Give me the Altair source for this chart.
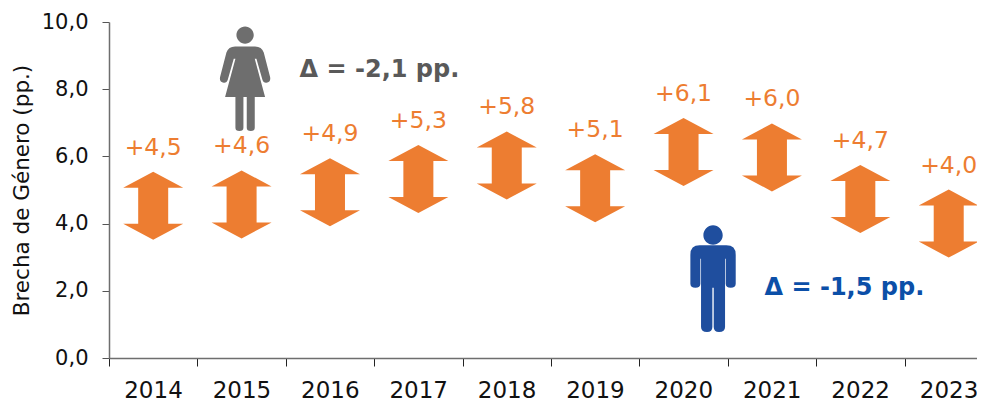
import re
import altair as alt
import pandas as pd

years = [2014, 2015, 2016, 2017, 2018, 2019, 2020, 2021, 2022, 2023]
gap = [4.53, 4.57, 4.93, 5.33, 5.73, 5.05, 6.13, 5.97, 4.73, 4.0]
labels = ["+4,5", "+4,6", "+4,9", "+5,3", "+5,8", "+5,1", "+6,1", "+6,0", "+4,7", "+4,0"]
x_domain = [2013.5, 2023.32]
x_ticks = [2013.5, 2014.5, 2015.5, 2016.5, 2017.5, 2018.5, 2019.5, 2020.5, 2021.5, 2022.5]

FONT = "DejaVu Sans"
ORANGE = "#ED7D31"


def unit(path, k):
    return re.sub(r"-?\d+(?:\.\d+)?", lambda m: f"{float(m.group()) / k:.4f}", path)


ARROW = unit(
    "M0,-34 L30,-18 L15,-18 L15,18 L30,18 L0,34 L-30,18 L-15,18 L-15,-18 L-30,-18 Z", 34
)
WOMAN = unit(
    "M0,-158 C14,-158 26,-146 26,-132 C26,-118 14,-106 0,-106 C-14,-106 -26,-118 -26,-132 C-26,-146 -14,-158 0,-158 Z "
    "M-30,-98 L30,-98 Q50,-98 56,-80 L75,-6 Q78,8 64,11 Q55,12 52,2 L34,-61 L29,-61 L60,54 L29,54 L29,146 "
    "Q29,156 17,156 Q5,156 5,146 L5,54 L-5,54 L-5,146 Q-5,156 -17,156 Q-29,156 -29,146 L-29,54 L-60,54 "
    "L-29,-61 L-34,-61 L-52,2 Q-55,12 -64,11 Q-78,8 -75,-6 L-56,-80 Q-50,-98 -30,-98 Z",
    156,
)
MAN = unit(
    "M0,-160 C16,-160 29,-146 29,-130 C29,-114 16,-102 0,-102 C-16,-102 -29,-114 -29,-130 C-29,-146 -16,-160 0,-160 Z "
    "M-40,-100 L40,-100 Q68,-100 68,-72 L68,15 Q68,27 53,27 Q38,27 38,15 L38,-60 L36,-60 L36,145 Q36,160 18,160 "
    "Q2,160 2,145 L2,27 L-2,27 L-2,145 Q-2,160 -18,160 Q-36,160 -36,145 L-36,-60 L-38,-60 L-38,15 Q-38,27 -53,27 "
    "Q-68,27 -68,15 L-68,-72 Q-68,-100 -40,-100 Z",
    160,
)

df = pd.DataFrame({"year": years, "gap": gap, "label": labels})

x = alt.X(
    "year:Q",
    scale=alt.Scale(domain=x_domain, nice=False, zero=False),
    axis=alt.Axis(
        title=None,
        values=x_ticks,
        labelExpr="format(datum.value + 0.5, 'd')",
        labelOffset=44,
        labelAngle=0,
        labelFont=FONT,
        labelFontSize=23,
        labelColor="#111111",
        labelPadding=13,
        labelOverlap=False,
        labelBound=False,
        labelFlush=False,
        tickSize=8,
        tickColor="#222222",
        tickWidth=1,
        domainColor="#6E6E6E",
        domainWidth=1.5,
        grid=False,
    ),
)
y = alt.Y(
    "gap:Q",
    scale=alt.Scale(domain=[0, 10], nice=False, zero=False),
    axis=alt.Axis(
        title="Brecha de Género (pp.)",
        titleFont=FONT,
        titleFontSize=21.5,
        titleFontWeight="normal",
        titleColor="#111111",
        titlePadding=8,
        values=[0, 2, 4, 6, 8, 10],
        labelExpr="replace(format(datum.value, '.1f'), '.', ',')",
        labelFont=FONT,
        labelFontSize=21,
        labelColor="#111111",
        labelPadding=14,
        tickSize=7,
        tickColor="#555555",
        tickWidth=1,
        domainColor="#6E6E6E",
        domainWidth=1.5,
        grid=False,
    ),
)

arrows = (
    alt.Chart(df)
    .mark_point(shape=ARROW, filled=True, size=68**2, color=ORANGE, opacity=1, strokeWidth=0)
    .encode(x=x, y=y)
)
gap_text = (
    alt.Chart(df)
    .mark_text(font=FONT, fontSize=23.5, color=ORANGE, dy=-58, baseline="middle")
    .encode(x=x, y=y, text="label:N")
)

woman_df = pd.DataFrame({"year": [2015], "gap": [8.3]})
man_df = pd.DataFrame({"year": [2020], "gap": [2.36]})
woman = (
    alt.Chart(woman_df)
    .mark_point(shape=WOMAN, filled=True, size=104**2, color="#6E6E6E", opacity=1, strokeWidth=0, xOffset=3.5)
    .encode(x=x, y=y)
)
man = (
    alt.Chart(man_df)
    .mark_point(shape=MAN, filled=True, size=106.7**2, color="#1F4E9E", opacity=1, strokeWidth=0, xOffset=29.5)
    .encode(x=x, y=y)
)

woman_note = pd.DataFrame({"year": [2015], "gap": [8.57], "note": ["Δ = -2,1 pp."]})
man_note = pd.DataFrame({"year": [2020], "gap": [2.09], "note": ["Δ = -1,5 pp."]})
woman_text = (
    alt.Chart(woman_note)
    .mark_text(font=FONT, fontSize=24, fontWeight="bold", color="#595959", align="left", baseline="middle", dx=58)
    .encode(x=x, y=y, text="note:N")
)
man_text = (
    alt.Chart(man_note)
    .mark_text(font=FONT, fontSize=24, fontWeight="bold", color="#0B4FA8", align="left", baseline="middle", dx=81)
    .encode(x=x, y=y, text="note:N")
)

chart = (
    alt.layer(arrows, gap_text, woman, man, woman_text, man_text)
    .properties(
        width=868,
        height=336,
        autosize=alt.AutoSizeParams(type="none"),
        padding={"left": 101, "top": 14, "right": 0, "bottom": 46},
    )
    .configure_view(stroke=None)
)

chart.save("out.html", embed_options={"renderer": "svg", "actions": False})
